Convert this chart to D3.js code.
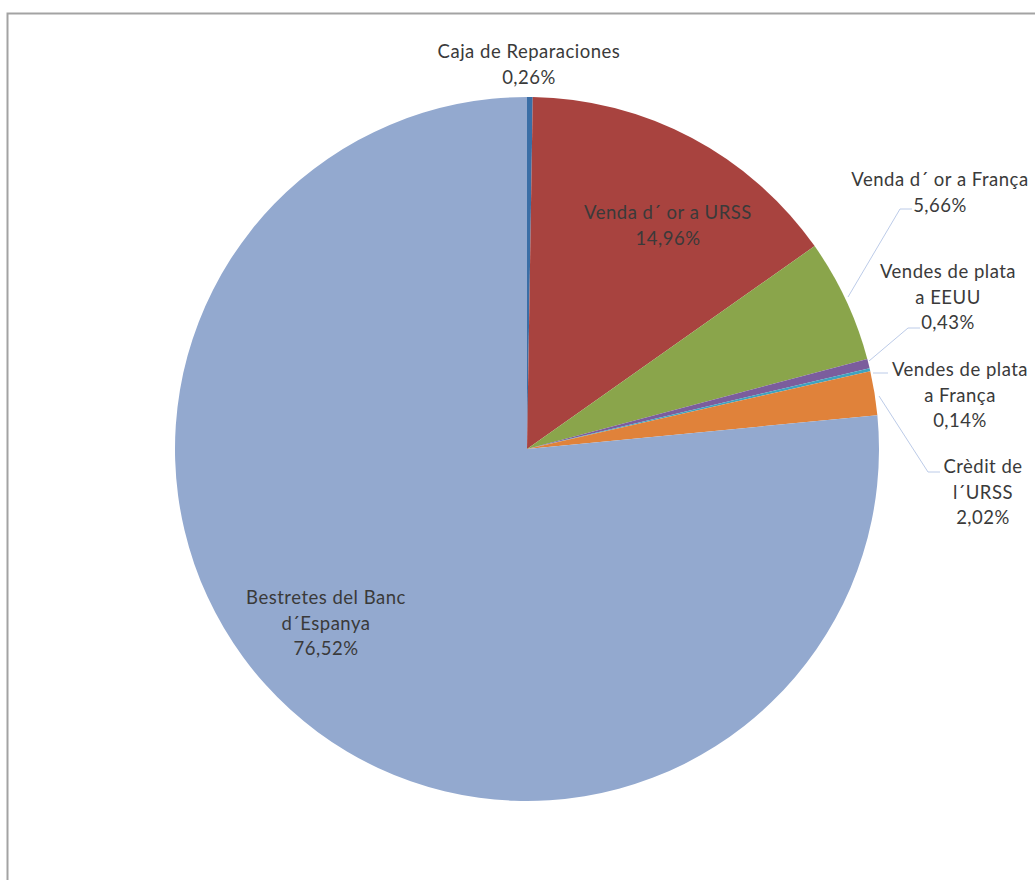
<!DOCTYPE html>
<html>
<head>
<meta charset="utf-8">
<script src="https://cdn.jsdelivr.net/npm/d3@7"></script>
<style>
  html, body { margin: 0; padding: 0; background: #fff; }
  svg { display: block; }
  text { font-family: Lato, "Open Sans", sans-serif; fill: #3a3a3a; letter-spacing: 0.5px; }
</style>
</head>
<body>
<svg id="chart" width="1035" height="880"></svg>
<script>
// Data
const categories = [
  "Caja de Reparaciones",
  "Venda d´ or a URSS",
  "Venda d´ or a França",
  "Vendes de plata a EEUU",
  "Vendes de plata a França",
  "Crèdit de l´URSS",
  "Bestretes del Banc d´Espanya"
];
const values = [0.26, 14.96, 5.66, 0.43, 0.14, 2.02, 76.52];
const valueLabels = ["0,26%", "14,96%", "5,66%", "0,43%", "0,14%", "2,02%", "76,52%"];
const labelLines = [
  ["Caja de Reparaciones"],
  ["Venda d´ or a URSS"],
  ["Venda d´ or a França"],
  ["Vendes de plata", "a EEUU"],
  ["Vendes de plata", "a França"],
  ["Crèdit de", "l´URSS"],
  ["Bestretes del Banc", "d´Espanya"]
];
const colors = ["#3A6EA6", "#A8433F", "#8AA54B", "#7B5D9D", "#3FA3BF", "#E0823A", "#93A9CF"];

// Layout
const cx = 527, cy = 449, r = 352;
const fontSize = 18.5, lineH = 25.5;
// label anchor: center x, center y of first line
const labelPos = [
  {x: 529, y: 52},
  {x: 668, y: 213},
  {x: 940, y: 180},
  {x: 948, y: 272},
  {x: 960, y: 370},
  {x: 983, y: 467},
  {x: 326, y: 598}
];
// leader lines (points) – only for outside labels
const leaders = [
  null,
  null,
  [[848, 297], [900, 209], [912, 209]],
  [[869, 361], [908, 328], [920, 328]],
  [[873, 373], [888, 373]],
  [[879, 396], [928, 472], [940, 472]],
  null
];

const svg = d3.select("#chart");

// frame
svg.append("path")
  .attr("d", "M7.5,900 L7.5,13.5 L1100,13.5")
  .attr("fill", "none")
  .attr("stroke", "#a3a3a3")
  .attr("stroke-width", 2);

const pie = d3.pie().sort(null).value(d => d)(values);
const arc = d3.arc().innerRadius(0).outerRadius(r);

const g = svg.append("g").attr("transform", `translate(${cx},${cy})`);
g.selectAll("path.slice")
  .data(pie)
  .join("path")
  .attr("class", "slice")
  .attr("d", arc)
  .attr("fill", (d, i) => colors[i]);

// leader lines
const line = d3.line();
svg.selectAll("path.leader")
  .data(leaders.filter(l => l))
  .join("path")
  .attr("class", "leader")
  .attr("d", line)
  .attr("fill", "none")
  .attr("stroke", "#BCCBE8")
  .attr("stroke-width", 1);

// labels
categories.forEach((c, i) => {
  const lines = labelLines[i].concat([valueLabels[i]]);
  const t = svg.append("text")
    .attr("text-anchor", "middle")
    .attr("font-size", fontSize);
  lines.forEach((ln, k) => {
    t.append("tspan")
      .attr("x", labelPos[i].x)
      .attr("y", labelPos[i].y + k * lineH)
      .attr("dy", "0.35em")
      .text(ln);
  });
});
</script>
</body>
</html>
